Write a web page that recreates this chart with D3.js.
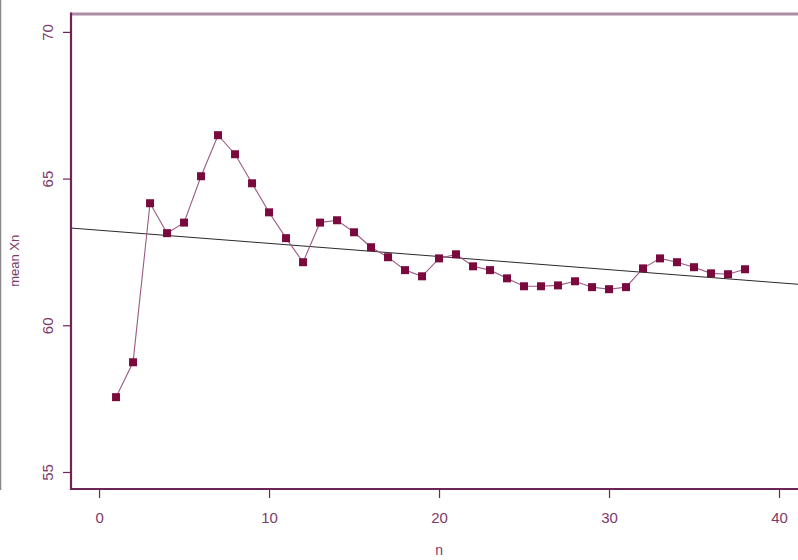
<!DOCTYPE html>
<html>
<head>
<meta charset="utf-8">
<script src="https://cdn.jsdelivr.net/npm/d3@7"></script>
<style>
  body { margin: 0; background: #fff; }
  text { font-family: "Liberation Sans", Arial, sans-serif; }
</style>
</head>
<body>
<div id="chart"></div>
<script>
// Data
const nValues = d3.range(1, 39)
const meanValues = [
  57.55, 58.74, 64.16, 63.14, 63.5, 65.08, 66.48, 65.83, 64.84, 63.85,
  62.97, 62.15, 63.5, 63.58, 63.17, 62.66, 62.32, 61.88, 61.67, 62.28,
  62.42, 62.01, 61.88, 61.6, 61.33, 61.33, 61.36, 61.5, 61.3, 61.23,
  61.3, 61.94, 62.28, 62.15, 61.98, 61.77, 61.74, 61.91
]
const xTicks = [0, 10, 20, 30, 40]
const yTicks = [55, 60, 65, 70]
const trendIntercept = 63.24
const trendSlope = -0.0448

const points = nValues.map((n, i) => ({ n: n, mean: meanValues[i] }))

// Dimensions
let dimensions = {
  width: 798,
  height: 560,
  left: 71,
  top: 14,
  bottom: 489,
  right: 813,
}

const axisColor = '#6e2457'
const textColor = '#7d3a6c'
const pointColor = '#7a0a3e'
const lineColor = '#9b5a83'

const svg = d3.select('#chart')
  .append('svg')
  .attr('width', dimensions.width)
  .attr('height', dimensions.height)

// Scales
const xScale = d3.scaleLinear()
  .domain([-1.65, 42])
  .range([dimensions.left, dimensions.right])

const yScale = d3.scaleLinear()
  .domain([54.42, 70.61])
  .range([dimensions.bottom, dimensions.top])

// thin gray line at the left edge
svg.append('line')
  .attr('x1', 0.5).attr('x2', 0.5)
  .attr('y1', 0).attr('y2', 490)
  .attr('stroke', '#888')
  .attr('stroke-width', 1.5)

// frame
svg.append('line')
  .attr('x1', dimensions.left).attr('x2', dimensions.right)
  .attr('y1', dimensions.top).attr('y2', dimensions.top)
  .attr('stroke', '#ad8ca6')
  .attr('stroke-width', 3)

svg.append('line')
  .attr('x1', dimensions.left).attr('x2', dimensions.right)
  .attr('y1', dimensions.bottom).attr('y2', dimensions.bottom)
  .attr('stroke', axisColor)
  .attr('stroke-width', 2.2)

svg.append('line')
  .attr('x1', dimensions.left).attr('x2', dimensions.left)
  .attr('y1', dimensions.top - 1.5).attr('y2', dimensions.bottom + 1)
  .attr('stroke', axisColor)
  .attr('stroke-width', 2.2)

// Axes
const xAxis = d3.axisBottom(xScale)
  .tickValues(xTicks)
  .tickSize(8)
  .tickPadding(14)

const xAxisGroup = svg.append('g')
  .attr('transform', `translate(0, ${dimensions.bottom + 1})`)
  .call(xAxis)
xAxisGroup.select('.domain').remove()
xAxisGroup.selectAll('line').attr('stroke', axisColor).attr('stroke-width', 1.2)
xAxisGroup.selectAll('text')
  .attr('fill', textColor)
  .style('font-size', '15px')

const yAxis = d3.axisLeft(yScale)
  .tickValues(yTicks)
  .tickSize(7)
  .tickPadding(0)

const yAxisGroup = svg.append('g')
  .attr('transform', `translate(${dimensions.left - 1}, 0)`)
  .call(yAxis)
yAxisGroup.select('.domain').remove()
yAxisGroup.selectAll('line').attr('stroke', axisColor).attr('stroke-width', 1.2)
yAxisGroup.selectAll('text')
  .attr('fill', textColor)
  .style('font-size', '15px')
  .attr('x', null)
  .attr('dy', null)
  .attr('text-anchor', 'middle')
  .attr('transform', 'translate(-17, 0) rotate(-90)')

// axis titles
svg.append('text')
  .attr('x', xScale(20))
  .attr('y', 555)
  .attr('text-anchor', 'middle')
  .attr('fill', textColor)
  .style('font-size', '14px')
  .text('n')

svg.append('text')
  .attr('transform', `translate(19, ${yScale(62.2)}) rotate(-90)`)
  .attr('text-anchor', 'middle')
  .attr('fill', textColor)
  .style('font-size', '13px')
  .text('mean Xn')

// plot region
const clip = svg.append('clipPath').attr('id', 'plot-clip')
clip.append('rect')
  .attr('x', dimensions.left + 1)
  .attr('y', dimensions.top + 1.5)
  .attr('width', dimensions.right - dimensions.left)
  .attr('height', dimensions.bottom - dimensions.top - 2.5)

const plot = svg.append('g').attr('clip-path', 'url(#plot-clip)')

// trend line
const xDom = xScale.domain()
plot.append('line')
  .attr('x1', xScale(xDom[0]))
  .attr('y1', yScale(trendIntercept + trendSlope * xDom[0]))
  .attr('x2', xScale(xDom[1]))
  .attr('y2', yScale(trendIntercept + trendSlope * xDom[1]))
  .attr('stroke', '#2a2a2a')
  .attr('stroke-width', 1)

// connecting line
const meanLine = d3.line()
  .x(d => xScale(d.n))
  .y(d => yScale(d.mean))

plot.append('path')
  .datum(points)
  .attr('d', meanLine)
  .attr('fill', 'none')
  .attr('stroke', lineColor)
  .attr('stroke-width', 1.1)

// points
const size = 8
plot.selectAll('rect.pt')
  .data(points)
  .join('rect')
  .attr('class', 'pt')
  .attr('x', d => xScale(d.n) - size / 2)
  .attr('y', d => yScale(d.mean) - size / 2)
  .attr('width', size)
  .attr('height', size)
  .attr('fill', pointColor)
</script>
</body>
</html>
